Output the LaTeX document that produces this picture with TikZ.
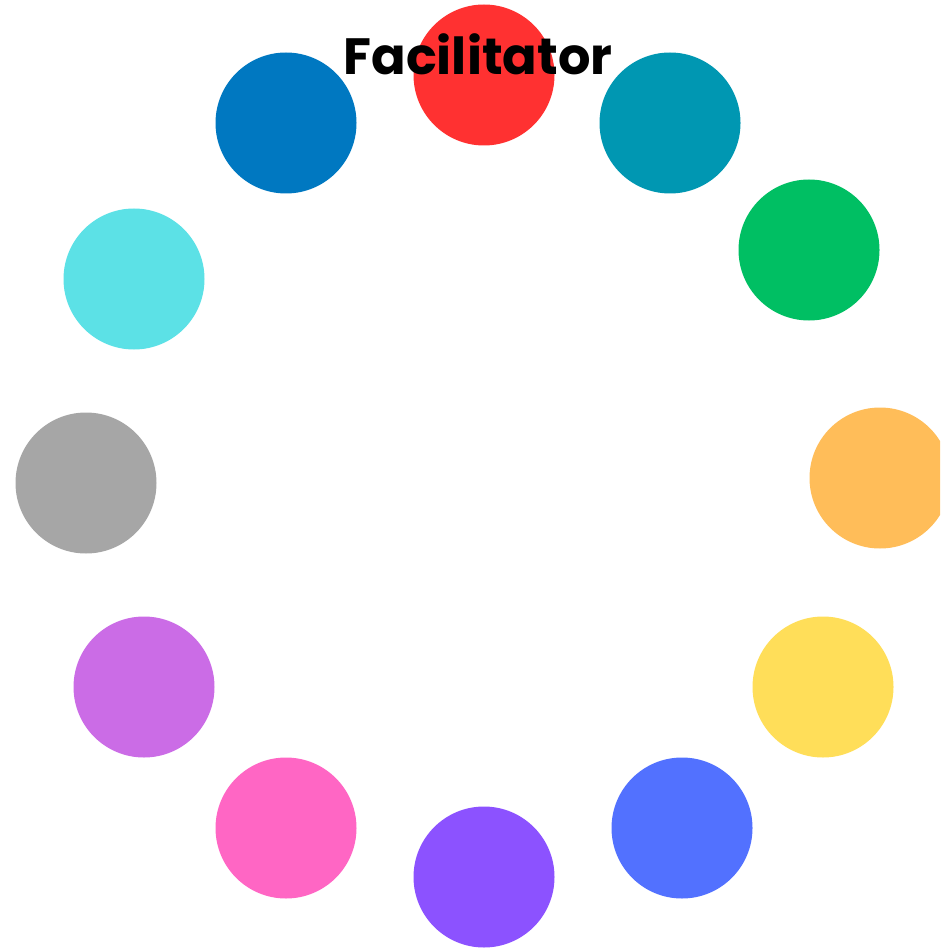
\documentclass[tikz,border=0pt]{standalone}
\usepackage{fontspec}
\setmainfont{Poppins}
\usepackage{tikz}
\usetikzlibrary{positioning}
\definecolor{fc-red}{HTML}{FF3131}
\definecolor{fc-teal}{HTML}{0097B2}
\definecolor{fc-green}{HTML}{00BF63}
\definecolor{fc-orange}{HTML}{FFBD59}
\definecolor{fc-yellow}{HTML}{FFDE59}
\definecolor{fc-blue}{HTML}{5271FF}
\definecolor{fc-purple}{HTML}{8C52FF}
\definecolor{fc-pink}{HTML}{FF66C4}
\definecolor{fc-lilac}{HTML}{CB6CE6}
\definecolor{fc-grey}{HTML}{A6A6A6}
\definecolor{fc-cyan}{HTML}{5CE1E6}
\definecolor{fc-navy}{HTML}{0078C1}

\begin{document}
\begin{tikzpicture}[x=1pt, y=-1pt,
    dot/.style={circle, minimum size=141pt, inner sep=0pt, draw=none}]
    % Canvas (same size as the reference)
    \useasboundingbox (0,0) rectangle (940,949);
    \clip (0,0) rectangle (940,949);

    % Ring of coloured dots (clockwise from the top)
    \foreach \name/\col/\x/\y in {
        red/fc-red/484/75,
        teal/fc-teal/670/123,
        green/fc-green/809/250,
        orange/fc-orange/880/478,
        yellow/fc-yellow/823/687,
        blue/fc-blue/682/828,
        purple/fc-purple/484/877,
        pink/fc-pink/286/828,
        lilac/fc-lilac/144/687,
        grey/fc-grey/86/483,
        cyan/fc-cyan/134/279,
        navy/fc-navy/286/123} {
        \node[dot, fill=\col] (dot-\name) at (\x,\y) {};
    }

    % Title over the top dot
    \node[font=\fontsize{51}{57}\selectfont\bfseries, text=black,
          inner sep=0pt] (title) at (478,54) {Facilitator};
\end{tikzpicture}
\end{document}
